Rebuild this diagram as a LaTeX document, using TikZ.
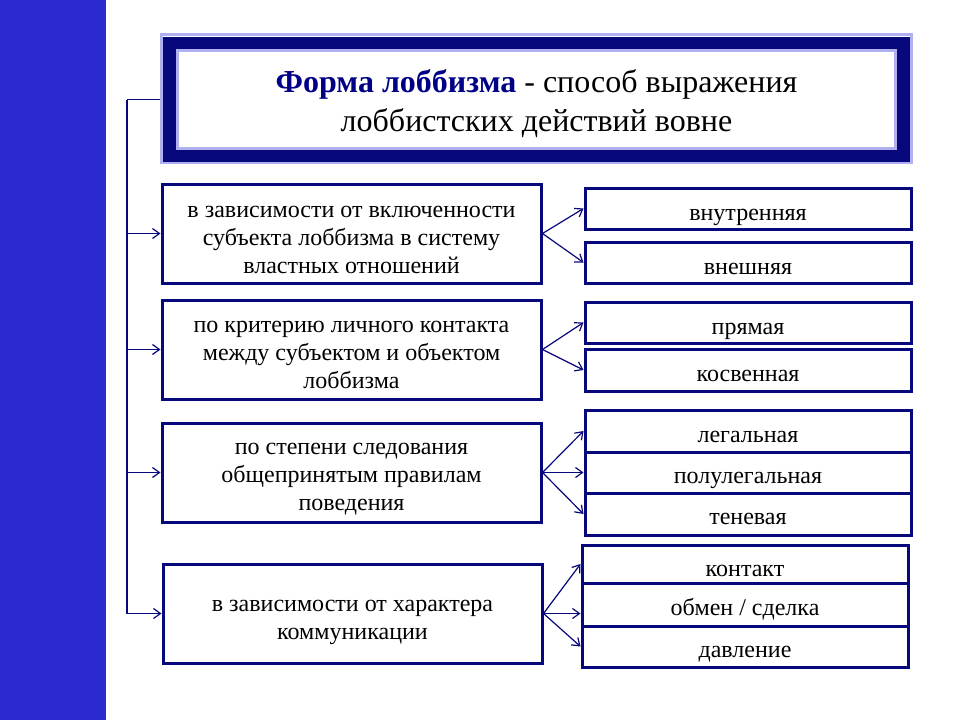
\documentclass[tikz,border=0pt]{standalone}
\usepackage{fontspec}
\setmainfont{Liberation Serif}
\usetikzlibrary{arrows.meta}
\definecolor{stripe}{RGB}{42,42,206}
\definecolor{navy}{RGB}{8,8,125}
\definecolor{halo}{RGB}{176,176,240}
\definecolor{titlenavy}{RGB}{0,0,135}
\tikzset{
  leftbox/.style={draw=navy, line width=3pt, fill=white, minimum width=379pt, minimum height=99pt, inner sep=0pt},
  rightbox/.style={draw=navy, line width=3pt, fill=white, minimum width=326pt, inner sep=0pt},
  txt/.style={inner sep=0pt, align=center, font=\fontsize{24}{28}\selectfont},
  rtxt/.style={txt, text height=16pt, text depth=5pt},
  arr/.style={draw=navy, line width=1.2pt, -{Straight Barb[length=7pt,width=10pt]}},
  conn/.style={draw=navy, line width=1.2pt}
}
\begin{document}
\begin{tikzpicture}[x=1pt,y=-1pt]
\useasboundingbox (0,0) rectangle (960,720);
\fill[white] (0,0) rectangle (960,720);
\fill[stripe] (0,0) rectangle (106,720);
% title box
\draw[halo, line width=3pt] (161.5,34.5) rectangle (911.5,162.5);
\node (title) [draw=navy, line width=13pt, fill=white, minimum width=734pt, minimum height=112pt, inner sep=0pt] at (536.5,99.5) {};
\draw[halo, line width=2.5pt] (177.5,50.5) rectangle (895.5,148.5);
\node (titletext) [txt, font=\fontsize{32}{39}\selectfont] at ([yshift=-4pt]title.center)
  {{\bfseries\color{titlenavy}Форма лоббизма} - способ выражения\\лоббистских действий вовне};
% left boxes
\node (b1) [leftbox] at (351.5,233.5) {};
\node (b2) [leftbox] at (351.5,349.5) {};
\node (b3) [leftbox] at (351.5,472.5) {};
\node (b4) [leftbox] at (352.5,613.5) {};
\node (t1) [txt] at ([yshift=-6pt]b1.center) {в зависимости от включенности\\субъекта лоббизма в систему\\властных отношений};
\node (t2) [txt] at ([yshift=-5pt]b2.center) {по критерию личного контакта\\между субъектом и объектом\\лоббизма};
\node (t3) [txt] at ([yshift=-7pt]b3.center) {по степени следования\\общепринятым правилам\\поведения};
\node (t4) [txt] at ([yshift=-9pt]b4.center) {в зависимости от характера\\коммуникации};
% right boxes
\node (r11) [rightbox, minimum height=41pt] at (748,208.5) {};
\node (r12) [rightbox, minimum height=41pt] at (748,262.5) {};
\node (r21) [rightbox, minimum height=41pt] at (748,322.5) {};
\node (r22) [rightbox, minimum height=42pt] at (748,370) {};
\node (r31) [rightbox, minimum height=42pt] at (748,431) {};
\node (r32) [rightbox, minimum height=41pt] at (748,472.5) {};
\node (r33) [rightbox, minimum height=42pt] at (748,514) {};
\node (r41) [rightbox, minimum height=38pt] at (745,564) {};
\node (r42) [rightbox, minimum height=43pt] at (745,604.5) {};
\node (r43) [rightbox, minimum height=41pt] at (745,646.5) {};
\node (s11) [rtxt] at ([yshift=-6pt]r11.center) {внутренняя};
\node (s12) [rtxt] at ([yshift=-6pt]r12.center) {внешняя};
\node (s21) [rtxt] at ([yshift=-6pt]r21.center) {прямая};
\node (s22) [rtxt] at ([yshift=-6pt]r22.center) {косвенная};
\node (s31) [rtxt] at ([yshift=-6pt]r31.center) {легальная};
\node (s32) [rtxt] at ([yshift=-5pt]r32.center) {полулегальная};
\node (s33) [rtxt] at ([yshift=-5pt]r33.center) {теневая};
\node (s41) [rtxt] at ([yshift=-6.5pt]r41.center) {контакт};
\node (s42) [rtxt] at ([yshift=-5pt]r42.center) {обмен / сделка};
\node (s43) [rtxt] at ([yshift=-5pt]r43.center) {давление};
% spine
\draw[conn] ([xshift=-3pt]title.west) -- ++(-33,0) coordinate (spine);
\draw[arr] (spine) |- (b4.west);
\draw[arr] (spine |- b1.west) -- (b1.west);
\draw[arr] (spine |- b2.west) -- (b2.west);
\draw[arr] (spine |- b3.west) -- (b3.west);
% fans
\draw[arr] (b1.east) -- (r11.west);
\draw[arr] (b1.east) -- (r12.west);
\draw[arr] (b2.east) -- (r21.west);
\draw[arr] (b2.east) -- (r22.west);
\draw[arr] (b3.east) -- (r31.west);
\draw[arr] (b3.east) -- (r32.west |- b3.east);
\draw[arr] (b3.east) -- (r33.west);
\draw[arr] (b4.east) -- (r41.west);
\draw[arr] (b4.east) -- (r42.west |- b4.east);
\draw[arr] (b4.east) -- (r43.west);
\end{tikzpicture}
\end{document}
